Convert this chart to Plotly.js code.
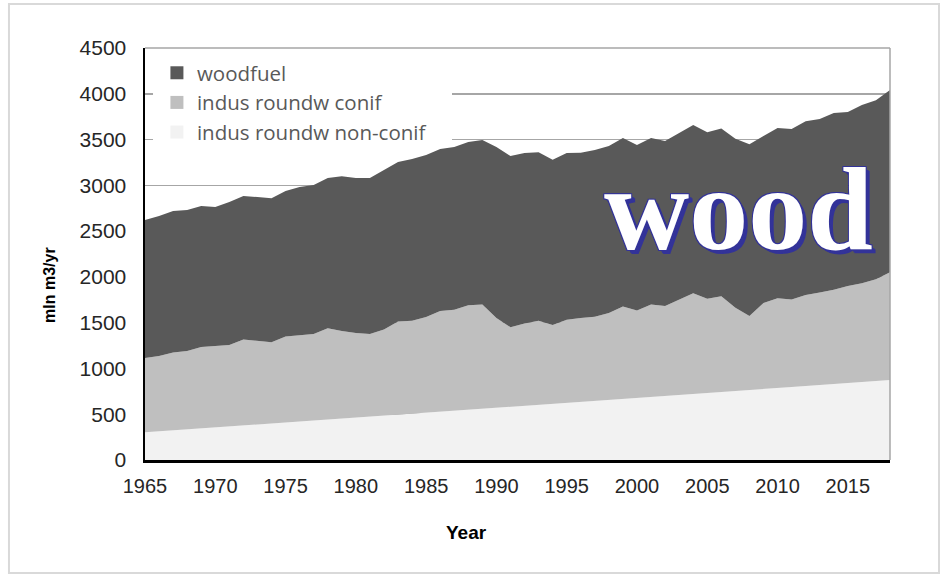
<!DOCTYPE html>
<html>
<head>
<meta charset="utf-8">
<script src="https://cdn.plot.ly/plotly-3.0.1.min.js"></script>
<style>
html,body{margin:0;padding:0;background:#fff;}
#chart{width:942px;height:576px;}
</style>
</head>
<body>
<div id="chart"></div>
<script>
const years = [1965,1966,1967,1968,1969,1970,1971,1972,1973,1974,1975,1976,1977,1978,1979,1980,1981,1982,1983,1984,1985,1986,1987,1988,1989,1990,1991,1992,1993,1994,1995,1996,1997,1998,1999,2000,2001,2002,2003,2004,2005,2006,2007,2008,2009,2010,2011,2012,2013,2014,2015,2016,2017,2018];
const nonConif = [302,312,323,334,344,355,366,377,388,398,409,420,431,442,452,463,474,485,496,506,517,528,539,550,560,571,582,593,603,614,625,636,647,657,668,679,690,701,711,722,733,744,755,765,776,787,798,808,819,830,841,852,862,873];
const conif = [812,824,852,856,890,890,890,938,917,889,941,942,945,998,957,924,902,940,1016,1014,1046,1100,1103,1140,1138,980,868,897,917,860,908,915,917,948,1009,953,1008,981,1039,1098,1029,1044,908,809,940,980,954,994,1011,1030,1059,1078,1113,1177];
const woodfuel = [1506,1529,1545,1540,1541,1518,1561,1568,1567,1573,1587,1619,1627,1640,1691,1693,1704,1742,1742,1767,1767,1768,1776,1782,1796,1867,1870,1862,1840,1806,1819,1804,1821,1824,1839,1808,1818,1801,1820,1838,1818,1832,1847,1876,1824,1858,1862,1898,1894,1929,1900,1947,1955,1990];
const seriesNames = ['indus roundw non-conif','indus roundw conif','woodfuel'];
const xTicks = [1965,1970,1975,1980,1985,1990,1995,2000,2005,2010,2015];
const yTicks = [0,500,1000,1500,2000,2500,3000,3500,4000,4500];

const colors = ['#f2f2f2','#bfbfbf','#595959'];
const vals = [nonConif, conif, woodfuel];
const traces = vals.map((v,i)=>({
  x: years, y: v, name: seriesNames[i], type:'scatter', mode:'lines',
  stackgroup:'one', line:{width:0, color:colors[i]}, fillcolor:colors[i],
  showlegend:false
}));
// legend entries with square swatches
seriesNames.forEach((n,i)=>{
  traces.push({x:[null], y:[null], name:n, type:'scatter', mode:'markers',
    marker:{symbol:'square', size:13, color:colors[i]}, showlegend:true});
});

const shadowBlue = '#333399';
const titleFont = '"Liberation Sans", Arial, sans-serif';
const layout = {
  width: 942, height: 576,
  margin: {l:145, r:52, t:48, b:116},
  paper_bgcolor:'#fff', plot_bgcolor:'#fff',
  showlegend: true,
  legend: {
    x: 0.016, y: 0.988, xanchor:'left', yanchor:'top',
    bgcolor:'rgba(0,0,0,0)', traceorder:'reversed',
    font:{family:'"Open Sans", Lato, sans-serif', size:20.5, color:'#595959'},
    tracegroupgap:0, itemwidth:30
  },
  xaxis: {
    range:[1965,2018], tickvals:xTicks, ticktext:xTicks.map(String),
    showgrid:false, zeroline:false, showline:true, linecolor:'#000', linewidth:2.5,
    ticks:'', ticklabelstandoff:6,
    tickfont:{family:titleFont, size:20, color:'#262626'}
  },
  yaxis: {
    range:[0,4500], tickvals:yTicks, ticktext:yTicks.map(String),
    showgrid:true, gridcolor:'#a6a6a6', gridwidth:1.5,
    zeroline:false, showline:true, linecolor:'#000', linewidth:2.5,
    ticks:'', ticklabelstandoff:12,
    tickfont:{family:'"Liberation Sans Narrow", "Liberation Sans", Arial, sans-serif', size:21, color:'#262626'}
  },
  shapes: [
    {type:'rect', xref:'x', yref:'y', x0:1965.57, x1:1986.84, y0:3450, y1:4420, line:{width:0}, fillcolor:'#ffffff', layer:'between'},
    {type:'line', xref:'paper', yref:'paper', x0:1, x1:1, y0:0, y1:1, line:{color:'#a6a6a6', width:1.5}},
    {type:'line', xref:'paper', yref:'paper', x0:0, x1:1, y0:1, y1:1, line:{color:'#a6a6a6', width:1.5}},
    {type:'rect', xref:'paper', yref:'paper', x0:-0.1826, x1:1.0658, y0:-0.2743, y1:1.1068, line:{color:'#d9d9d9', width:2}, fillcolor:'rgba(0,0,0,0)', layer:'below'}
  ],
  annotations: [
    {xref:'paper', yref:'paper', x:0.431, y:-0.175, xanchor:'center', yanchor:'middle', showarrow:false,
     text:'<b>Year</b>', font:{family:titleFont, size:19, color:'#000'}},
    {xref:'paper', yref:'paper', x:-0.1275, y:0.425, xanchor:'center', yanchor:'middle', showarrow:false, textangle:-90,
     text:'<b>mln m3/yr</b>', font:{family:titleFont, size:16, color:'#000'}},
    {xref:'paper', yref:'paper', x:0.796, y:0.607, xanchor:'center', yanchor:'middle',
    text:'wood', showarrow:false,
    font:{family:'"Liberation Serif", "Times New Roman", serif', size:118, color:'#ffffff', weight:'bold',
      shadow:'1px 1px 0 '+shadowBlue+', -1px -1px 0 '+shadowBlue+', 1px -1px 0 '+shadowBlue+', -1px 1px 0 '+shadowBlue+', 3px 3px 0 '+shadowBlue+', 4px 4px 0 '+shadowBlue}
  }]
};

Plotly.newPlot('chart', traces, layout, {displayModeBar:false, staticPlot:true});
</script>
</body>
</html>
